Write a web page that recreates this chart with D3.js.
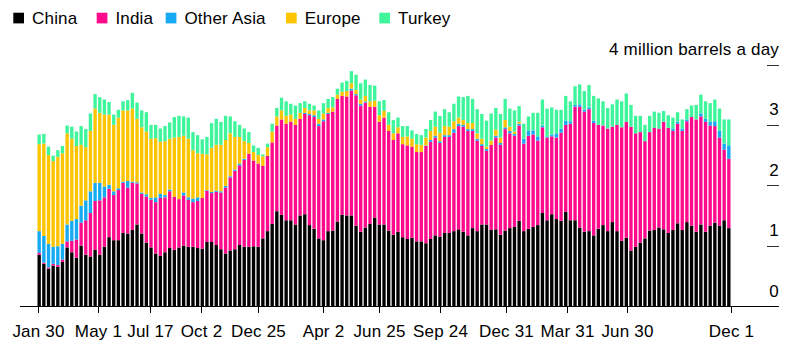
<!DOCTYPE html>
<html>
<head>
<meta charset="utf-8">
<script src="https://cdn.jsdelivr.net/npm/d3@7"></script>
<style>
  body { margin: 0; background: #fff; }
  svg text {
    font-family: "Liberation Sans", Arial, Helvetica, sans-serif;
    font-size: 17px;
    letter-spacing: 0.2px;
    fill: #000;
  }
</style>
</head>
<body>
<svg id="chart" width="788" height="350"></svg>
<script>
// Weekly seaborne crude shipments by destination, million barrels a day
const firstWeek = new Date(2022, 0, 30);
const lastWeek = new Date(2024, 11, 1);
const weeks = d3.timeWeek.range(firstWeek, d3.timeDay.offset(lastWeek, 1));

const seriesNames = ["China", "India", "Other Asia", "Europe", "Turkey"];
const seriesColors = ["#000000", "#ff0a8c", "#15aaf2", "#ffc400", "#3ff59b"];

const china = [
  0.85,0.70,0.62,0.67,0.65,0.73,0.97,0.89,0.80,1.00,
  0.85,0.82,0.93,0.85,0.98,1.14,1.09,1.09,1.21,1.20,
  1.26,1.35,1.20,1.05,0.97,0.87,0.83,0.89,0.96,0.93,
  0.97,1.00,0.98,0.98,0.96,0.95,1.06,1.06,1.01,0.94,
  0.87,0.92,0.94,1.01,0.98,0.98,0.99,0.98,1.12,1.24,
  1.36,1.57,1.51,1.42,1.42,1.35,1.50,1.52,1.34,1.28,
  1.12,1.09,1.24,1.25,1.40,1.51,1.50,1.50,1.33,1.23,
  1.30,1.36,1.46,1.35,1.35,1.25,1.18,1.23,1.14,1.11,
  1.13,1.07,1.07,1.04,1.11,1.17,1.15,1.21,1.21,1.24,
  1.27,1.23,1.17,1.29,1.24,1.35,1.35,1.26,1.27,1.18,
  1.25,1.29,1.31,1.41,1.24,1.28,1.31,1.34,1.54,1.42,
  1.52,1.44,1.41,1.56,1.42,1.42,1.30,1.23,1.24,1.17,
  1.28,1.34,1.24,1.39,1.24,1.08,1.13,0.92,0.98,1.05,
  1.12,1.25,1.26,1.30,1.27,1.21,1.26,1.37,1.26,1.39,
  1.33,1.23,1.35,1.23,1.33,1.38,1.33,1.42,1.29
];

const india = [
  0.03,0.02,0.02,0.03,0.03,0.04,0.10,0.19,0.30,0.38,
  0.57,0.72,0.81,0.90,0.82,0.80,0.75,0.83,0.83,0.76,
  0.78,0.68,0.66,0.76,0.79,0.85,0.96,0.91,0.94,0.88,
  0.80,0.83,0.78,0.74,0.78,0.84,0.85,0.81,0.88,0.94,
  1.09,1.21,1.30,1.32,1.44,1.54,1.42,1.38,1.20,1.25,
  1.35,1.42,1.58,1.60,1.63,1.65,1.60,1.66,1.82,1.85,
  1.86,1.97,1.94,1.97,2.03,1.97,1.97,2.07,2.16,2.09,
  2.07,1.94,1.84,1.70,1.77,1.65,1.57,1.63,1.54,1.55,
  1.51,1.48,1.48,1.61,1.61,1.62,1.55,1.59,1.59,1.63,
  1.71,1.74,1.73,1.61,1.50,1.30,1.22,1.41,1.52,1.49,
  1.68,1.57,1.51,1.58,1.45,1.54,1.53,1.40,1.42,1.37,
  1.29,1.35,1.46,1.44,1.60,1.88,2.00,1.99,2.02,1.86,
  1.72,1.65,1.70,1.58,1.76,1.88,1.92,2.05,1.88,1.83,
  1.61,1.63,1.69,1.64,1.78,1.74,1.64,1.65,1.64,1.67,
  1.80,1.86,1.79,1.82,1.66,1.60,1.46,1.17,1.15
];

const otherAsia = [
  0.36,0.44,0.39,0.28,0.31,0.26,0.28,0.33,0.34,0.28,
  0.33,0.36,0.30,0.29,0.18,0.07,0.06,0.03,0.02,0.11,
  0.02,0.02,0.02,0.04,0.03,0.08,0.07,0.04,0.03,0.00,
  0.00,0.05,0.04,0.06,0.06,0.00,0.01,0.02,0.02,0.02,
  0.03,0.02,0.02,0.03,0.02,0.00,0.00,0.00,0.00,0.00,
  0.00,0.00,0.00,0.00,0.00,0.00,0.00,0.02,0.02,0.03,
  0.04,0.03,0.02,0.00,0.00,0.00,0.00,0.03,0.02,0.03,
  0.02,0.00,0.00,0.00,0.00,0.00,0.00,0.00,0.00,0.00,
  0.00,0.00,0.00,0.01,0.03,0.03,0.03,0.03,0.03,0.06,
  0.04,0.03,0.03,0.03,0.03,0.03,0.03,0.00,0.03,0.03,
  0.03,0.04,0.03,0.03,0.08,0.08,0.07,0.07,0.03,0.02,
  0.03,0.07,0.07,0.07,0.04,0.03,0.04,0.03,0.03,0.04,
  0.00,0.00,0.00,0.00,0.00,0.00,0.00,0.00,0.00,0.00,
  0.00,0.00,0.00,0.00,0.00,0.00,0.04,0.03,0.04,0.03,
  0.00,0.00,0.05,0.05,0.06,0.08,0.11,0.10,0.22
];

const europe = [
  1.44,1.53,1.47,1.42,1.48,1.50,1.51,1.36,1.21,1.01,
  0.88,1.00,1.23,1.16,1.19,1.16,1.10,1.17,1.18,1.17,
  1.21,1.05,1.08,1.04,0.98,0.98,0.86,0.89,0.84,0.98,
  1.03,0.94,0.97,0.80,0.73,0.73,0.59,0.73,0.76,0.77,
  0.76,0.71,0.54,0.44,0.29,0.18,0.14,0.14,0.16,0.14,
  0.18,0.15,0.15,0.13,0.12,0.10,0.10,0.08,0.06,0.08,
  0.08,0.10,0.08,0.07,0.07,0.07,0.09,0.09,0.07,0.07,
  0.09,0.09,0.10,0.11,0.11,0.10,0.11,0.10,0.12,0.15,
  0.13,0.13,0.12,0.13,0.15,0.15,0.14,0.15,0.14,0.13,
  0.10,0.08,0.10,0.10,0.09,0.09,0.04,0.07,0.10,0.09,
  0.12,0.07,0.04,0.03,0.00,0.00,0.00,0.00,0.00,0.00,
  0.00,0.00,0.00,0.00,0.00,0.00,0.00,0.00,0.00,0.00,
  0.00,0.00,0.00,0.00,0.00,0.00,0.00,0.00,0.00,0.00,
  0.00,0.00,0.00,0.00,0.00,0.00,0.00,0.00,0.00,0.00,
  0.00,0.00,0.00,0.00,0.00,0.00,0.00,0.00,0.00
];

const turkey = [
  0.16,0.16,0.14,0.09,0.11,0.12,0.13,0.20,0.24,0.31,
  0.30,0.29,0.24,0.26,0.25,0.21,0.17,0.13,0.15,0.17,
  0.26,0.27,0.28,0.32,0.23,0.22,0.22,0.25,0.27,0.34,
  0.35,0.32,0.35,0.30,0.30,0.24,0.29,0.41,0.43,0.38,
  0.40,0.28,0.26,0.20,0.21,0.18,0.11,0.12,0.03,0.06,
  0.13,0.14,0.21,0.24,0.18,0.22,0.16,0.11,0.11,0.08,
  0.14,0.17,0.15,0.17,0.10,0.15,0.17,0.20,0.25,0.27,
  0.27,0.27,0.25,0.23,0.18,0.21,0.22,0.16,0.18,0.17,
  0.14,0.17,0.16,0.14,0.18,0.25,0.28,0.28,0.24,0.29,
  0.35,0.38,0.45,0.40,0.40,0.41,0.43,0.45,0.36,0.39,
  0.35,0.30,0.35,0.26,0.25,0.24,0.29,0.39,0.43,0.46,
  0.45,0.39,0.31,0.41,0.33,0.31,0.33,0.31,0.37,0.41,
  0.44,0.40,0.34,0.37,0.42,0.43,0.47,0.36,0.29,0.27,
  0.27,0.27,0.27,0.26,0.18,0.21,0.18,0.16,0.15,0.17,
  0.19,0.24,0.31,0.29,0.31,0.36,0.37,0.40,0.43
];

const yTicks = [0, 1, 2, 3, 4];
const yTickLabels = ["0", "1", "2", "3", "4 million barrels a day"];
const xTickDates = ["2022-01-30", "2022-05-01", "2022-07-17", "2022-10-02", "2022-12-25",
  "2023-04-02", "2023-06-25", "2023-09-24", "2023-12-31", "2024-03-31", "2024-06-30", "2024-12-01"];
const xTickLabels = ["Jan 30", "May 1", "Jul 17", "Oct 2", "Dec 25", "Apr 2", "Jun 25",
  "Sep 24", "Dec 31", "Mar 31", "Jun 30", "Dec 1"];

// Table for the stack layout
const values = [china, india, otherAsia, europe, turkey];
const table = weeks.map((w, i) => {
  const row = { week: w };
  seriesNames.forEach((name, k) => { row[name] = values[k][i]; });
  return row;
});
const stacked = d3.stack().keys(seriesNames)(table);

const svg = d3.select("#chart");
const plotLeft = 37.5, plotRight = 730.5;

const x = d3.scaleBand()
  .domain(d3.range(weeks.length))
  .range([plotLeft, plotRight])
  .paddingInner(0.28)
  .paddingOuter(0);

const xTime = d3.scaleTime()
  .domain([firstWeek, lastWeek])
  .range([plotLeft, plotRight]);

const y = d3.scaleLinear().domain([0, 4]).range([306, 64.5]);

// Stacked bars
svg.append("g")
  .selectAll("g")
  .data(stacked)
  .join("g")
  .attr("fill", (d, k) => seriesColors[k])
  .selectAll("rect")
  .data(d => d.map((seg, i) => ({ seg, i })).filter(o => o.seg[1] - o.seg[0] > 0))
  .join("rect")
  .attr("x", o => x(o.i))
  .attr("width", x.bandwidth())
  .attr("y", o => y(o.seg[1]))
  .attr("height", o => y(o.seg[0]) - y(o.seg[1]));

// Baseline
svg.append("line")
  .attr("x1", 20).attr("x2", 779)
  .attr("y1", y(0) + 0.5).attr("y2", y(0) + 0.5)
  .attr("stroke", "#000").attr("stroke-width", 1);

// Date ticks and labels
const xAxis = svg.append("g");
xTickDates.forEach((ds, k) => {
  const px = Math.round(xTime(d3.timeParse("%Y-%m-%d")(ds))) + 0.5;
  xAxis.append("line")
    .attr("x1", px).attr("x2", px)
    .attr("y1", y(0)).attr("y2", y(0) + 7)
    .attr("stroke", "#000").attr("stroke-width", 1);
  xAxis.append("text")
    .attr("x", px).attr("y", 336.5)
    .attr("text-anchor", "middle")
    .text(xTickLabels[k]);
});

// Value ticks on the right
const yAxis = svg.append("g");
yTicks.forEach((v, k) => {
  if (v > 0) {
    yAxis.append("line")
      .attr("x1", 767).attr("x2", 779)
      .attr("y1", Math.round(y(v)) + 0.5).attr("y2", Math.round(y(v)) + 0.5)
      .attr("stroke", "#333").attr("stroke-width", 1);
  }
  yAxis.append("text")
    .attr("x", 779).attr("y", y(v) - 9.5)
    .attr("text-anchor", "end")
    .text(yTickLabels[k]);
});

// Legend
const legendX = [13.3, 96.7, 165.7, 286, 379.3];
const legend = svg.append("g");
seriesNames.forEach((name, k) => {
  legend.append("rect")
    .attr("x", legendX[k]).attr("y", 12.7)
    .attr("width", 10.7).attr("height", 10.7)
    .attr("fill", seriesColors[k]);
  legend.append("text")
    .attr("x", legendX[k] + 18.7).attr("y", 23.7)
    .text(name);
});
</script>
</body>
</html>
